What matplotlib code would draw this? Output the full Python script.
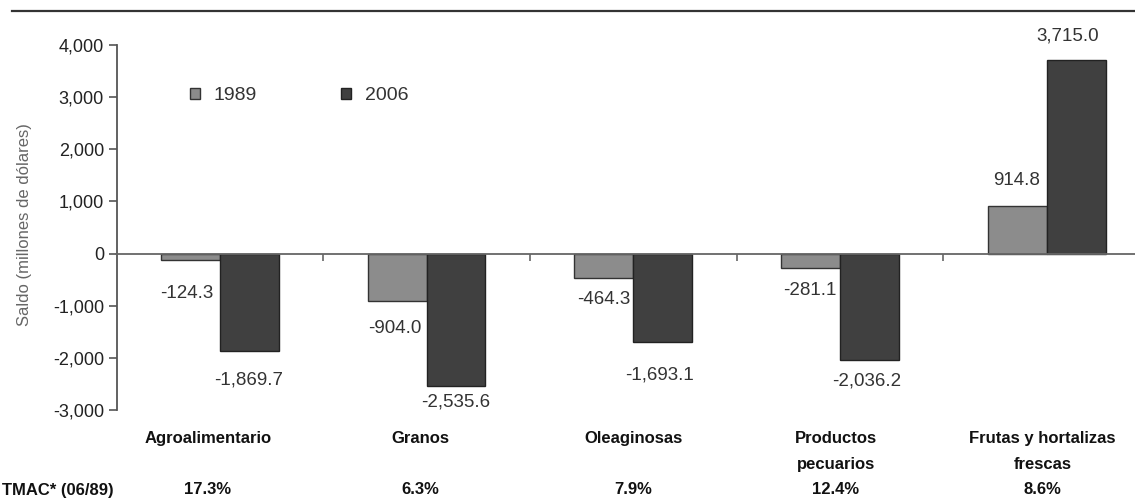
import matplotlib
matplotlib.use("Agg")
import matplotlib.pyplot as plt
from matplotlib.lines import Line2D
from matplotlib.patches import Patch
from matplotlib.ticker import FuncFormatter
import matplotlib.transforms as mtransforms

# saldo de la balanza comercial por grupo, millones de dolares
categorias = ["Agroalimentario", "Granos", "Oleaginosas", "Productos\npecuarios", "Frutas y hortalizas\nfrescas"]
saldo_1989 = [-124.3, -904.0, -464.3, -281.1, 914.8]
saldo_2006 = [-1869.7, -2535.6, -1693.1, -2036.2, 3715.0]
tmac = ["17.3%", "6.3%", "7.9%", "12.4%", "8.6%"]
y_ticks = [-3000, -2000, -1000, 0, 1000, 2000, 3000, 4000]

# offsets (px) of each value label from the end of its bar
off_1989 = [(-4, 33), (-2, 28), (0, 22), (-1, 22), (-1, -25)]
off_2006 = [(-1, 29), (0, 16), (-3, 33), (-3, 21), (-8, -24)]
# small horizontal shifts (px) of the group names / TMAC row
off_cat = [-12, -6, 0, -4, -4]

plt.rcParams["font.family"] = ["Liberation Sans", "DejaVu Sans"]

W, H = 1135, 499
fig = plt.figure(figsize=(W / 100, H / 100), dpi=100)
ax = fig.add_axes([116.5 / W, 1 - 410 / H, 1033.5 / W, 365 / H])

c89 = "#8c8c8c"
c06 = "#404040"
w = 0.285
x = list(range(len(categorias)))

ax.bar([i - w / 2 for i in x], saldo_1989, width=w, color=c89, edgecolor="#333333", linewidth=1)
ax.bar([i + w / 2 for i in x], saldo_2006, width=w, color=c06, edgecolor="#222222", linewidth=1)

ax.set_xlim(-0.5, len(categorias) - 0.5)
ax.set_ylim(-3000, 4000)
ax.set_yticks(y_ticks)
ax.yaxis.set_major_formatter(FuncFormatter(lambda v, p: "{:,.0f}".format(v)))
ax.tick_params(axis="y", direction="out", length=6, width=1.2, color="#555555",
               labelsize=13, labelcolor="#222222", pad=3)

ax.spines["top"].set_visible(False)
ax.spines["right"].set_visible(False)
ax.spines["left"].set_color("#555555")
ax.spines["left"].set_linewidth(1.3)
ax.spines["bottom"].set_position(("data", 0))
ax.spines["bottom"].set_color("#666666")
ax.spines["bottom"].set_linewidth(1.3)
ax.set_xticks([i + 0.5 for i in x[:-1]])
ax.set_xticklabels([])
ax.tick_params(axis="x", direction="out", length=5, width=1.2, color="#666666")

# etiquetas de valor
px = 0.72
for i, v in enumerate(saldo_1989):
    dx, dy = off_1989[i]
    ax.annotate("{:,.1f}".format(v), (i - w / 2, v), xytext=(dx * px, -dy * px),
                textcoords="offset points", ha="center", va="center",
                fontsize=13.5, color="#333333")
for i, v in enumerate(saldo_2006):
    dx, dy = off_2006[i]
    ax.annotate("{:,.1f}".format(v), (i + w / 2, v), xytext=(dx * px, -dy * px),
                textcoords="offset points", ha="center", va="center",
                fontsize=13.5, color="#333333")

# nombres de grupo y TMAC bajo el eje
tr = mtransforms.blended_transform_factory(ax.transData, fig.transFigure)
for i, nombre in enumerate(categorias):
    t = ax.text(i, 1 - 431 / H, nombre, transform=tr, ha="center", va="top",
                fontsize=12, fontweight="bold", color="#111111", linespacing=1.9)
    t2 = ax.text(i, 1 - 490 / H, tmac[i], transform=tr, ha="center", va="center",
                 fontsize=12, fontweight="bold", color="#111111")
    shift = mtransforms.ScaledTranslation(off_cat[i] / 100, 0, fig.dpi_scale_trans)
    t.set_transform(tr + shift)
    t2.set_transform(tr + shift)
fig.text(2 / W, 1 - 490 / H, "TMAC* (06/89)", ha="left", va="center",
         fontsize=12, fontweight="bold", color="#111111")

fig.text(25 / W, 1 - 225 / H, "Saldo (millones de dólares)", rotation=90,
         ha="center", va="center", fontsize=12, color="#666666")

handles = [Patch(facecolor=c89, edgecolor="#333333", label="1989"),
           Patch(facecolor=c06, edgecolor="#222222", label="2006")]
ax.legend(handles=handles, ncol=2, frameon=False, loc="upper left",
          bbox_to_anchor=(172 / W, 1 - 70 / H), bbox_transform=fig.transFigure,
          handlelength=0.55, handleheight=0.55, handletextpad=0.7, columnspacing=4.3,
          fontsize=14, labelcolor="#333333")

fig.add_artist(Line2D([12 / W, 1], [1 - 11 / H, 1 - 11 / H], transform=fig.transFigure,
                      color="#333333", linewidth=1.6))

fig.savefig("out.png", dpi=100)
